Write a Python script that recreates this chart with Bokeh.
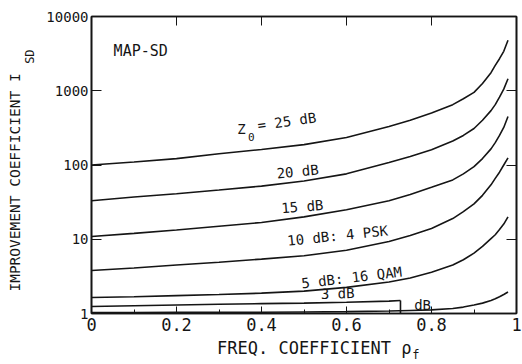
import math
from bokeh.plotting import figure
from bokeh.models import FixedTicker, LinearAxis, LogAxis, Label
from bokeh.embed import file_html
from bokeh.resources import INLINE

# ---- data ----
rho_f = [0, 0.1, 0.2, 0.3, 0.4, 0.5, 0.6, 0.7, 0.75, 0.8, 0.85, 0.875, 0.9, 0.92,
         0.94, 0.95, 0.96, 0.97, 0.98]
isd_25db = [100, 110, 122, 142, 162, 188, 235, 330, 400, 500, 650, 780, 950, 1250,
            1750, 2200, 2700, 3400, 4800]
isd_20db = [33, 37, 41, 46, 52, 61, 76, 108, 130, 160, 210, 250, 310, 400,
            540, 650, 820, 1050, 1450]
isd_15db = [10.9, 12, 13.3, 15, 16.8, 20, 25, 33, 40, 50, 63, 76, 95, 122,
            165, 200, 250, 320, 450]
isd_10db = [3.8, 4.1, 4.5, 4.9, 5.4, 6.0, 7.1, 9.3, 11.2, 14, 19, 23.5, 30, 39,
            54, 66, 80, 100, 125]
isd_5db = [1.64, 1.68, 1.74, 1.80, 1.88, 2.0, 2.25, 2.65, 3.0, 3.6, 4.5, 5.3, 6.5,
           8.0, 10.2, 11.5, 13.5, 16, 20]
isd_1db = [1.03, 1.03, 1.035, 1.04, 1.04, 1.05, 1.06, 1.08, 1.1, 1.12, 1.17, 1.22,
           1.3, 1.38, 1.5, 1.58, 1.68, 1.8, 1.95]
rho_f_3db = [0, 0.1, 0.2, 0.3, 0.4, 0.5, 0.6, 0.7, 0.727]
isd_3db = [1.24, 1.27, 1.30, 1.33, 1.36, 1.38, 1.42, 1.47, 1.5]

x_ticks = [0, 0.2, 0.4, 0.6, 0.8, 1]
x_tick_labels = ["0", "0.2", "0.4", "0.6", "0.8", "1"]
x_minor_ticks = [0.1, 0.3, 0.5, 0.7, 0.9]
x_top_ticks = [0.2, 0.4, 0.6, 0.8]
y_ticks = [1, 10, 100, 1000, 10000]
y_tick_labels = ["1", "10", "100", "1000", "10000"]

x_title = "FREQ. COEFFICIENT ρ"
x_title_sub = "f"
y_title = "IMPROVEMENT COEFFICIENT I"
y_title_sub = "SD"

curve_label_text = ["= 25 dB", "20 dB", "15 dB", "10 dB: 4 PSK", "5 dB: 16 QAM", "3 dB", "dB"]
curve_label_x = [0.391, 0.485, 0.496, 0.579, 0.612, 0.579, 0.779]
curve_label_y = [340, 81.7, 27.6, 11.2, 3.05, 1.86, 1.32]
curve_label_angle = [0.14, 0.10, 0.08, 0.105, 0.12, 0.03, 0.0]
curve_label_align = ["left", "center", "center", "center", "center", "center", "center"]

FONT = "DejaVu Sans Mono"
INK = "#151515"
NB = "\u00a0"

p = figure(width=522, height=364, x_range=(0, 1), y_range=(1, 10000),
           y_axis_type="log", output_backend="svg", toolbar_location=None,
           min_border_left=91, min_border_right=6, min_border_top=16,
           min_border_bottom=51)
p.xgrid.visible = False
p.ygrid.visible = False
p.outline_line_color = INK
p.outline_line_width = 1.6

xb = p.below[0]
xb.ticker = FixedTicker(ticks=x_ticks, minor_ticks=x_minor_ticks)
xb.major_label_overrides = {t: l for t, l in zip(x_ticks, x_tick_labels)}
xb.major_tick_in = 7
xb.major_tick_out = 0
xb.minor_tick_in = 4
xb.minor_tick_out = 0
xb.major_label_standoff = 4
xb.major_label_text_font = FONT
xb.major_label_text_font_size = "17px"
xb.major_label_text_color = INK
xb.axis_line_color = INK
xb.axis_line_width = 1.6
xb.major_tick_line_color = INK
xb.minor_tick_line_color = INK
xb.axis_label = NB * 2 + x_title
xb.axis_label_standoff = 4
xb.axis_label_text_font = FONT
xb.axis_label_text_font_size = "17px"
xb.axis_label_text_font_style = "normal"
xb.axis_label_text_color = INK

yl = p.left[0]
yl.ticker = FixedTicker(ticks=y_ticks, minor_ticks=[])
yl.major_label_overrides = {t: l for t, l in zip(y_ticks, y_tick_labels)}
yl.major_tick_in = 10
yl.major_tick_out = 0
yl.minor_tick_line_color = None
yl.major_label_standoff = 3
yl.major_label_text_font = FONT
yl.major_label_text_font_size = "14px"
yl.major_label_text_color = INK
yl.axis_line_color = INK
yl.axis_line_width = 1.6
yl.major_tick_line_color = INK
yl.axis_label = NB * 30 + y_title_sub
yl.axis_label_standoff = 6
yl.axis_label_text_font = FONT
yl.axis_label_text_font_size = "12px"
yl.axis_label_text_font_style = "normal"
yl.axis_label_text_color = INK

# subscript of the x title, on a bare axis stacked below
xsub = LinearAxis(ticker=FixedTicker(ticks=[], minor_ticks=[]), axis_line_color=None,
                  major_tick_line_color=None, minor_tick_line_color=None,
                  major_label_standoff=0, axis_label=NB * 31 + x_title_sub,
                  axis_label_standoff=-13, axis_label_text_font=FONT,
                  axis_label_text_font_size="12px", axis_label_text_font_style="normal",
                  axis_label_text_color=INK)
p.add_layout(xsub, "below")
# main y title, on a bare axis stacked left of the subscript
ymain = LogAxis(ticker=FixedTicker(ticks=[], minor_ticks=[]), axis_line_color=None,
                major_tick_line_color=None, minor_tick_line_color=None,
                major_label_standoff=0, axis_label=y_title + NB * 4,
                axis_label_standoff=-2, axis_label_text_font=FONT,
                axis_label_text_font_size="14.5px", axis_label_text_font_style="normal",
                axis_label_text_color=INK)
p.add_layout(ymain, "left")

top = LinearAxis(ticker=FixedTicker(ticks=x_top_ticks, minor_ticks=[]),
                 major_tick_in=9, major_tick_out=0, minor_tick_line_color=None,
                 major_label_text_font_size="1px", major_label_text_alpha=0,
                 major_label_standoff=0,
                 axis_line_color=INK, axis_line_width=1.6, major_tick_line_color=INK)
p.add_layout(top, "above")
right = LogAxis(ticker=FixedTicker(ticks=y_ticks[1:-1], minor_ticks=[]),
                major_tick_in=10, major_tick_out=0, minor_tick_line_color=None,
                major_label_text_font_size="1px", major_label_text_alpha=0,
                major_label_standoff=0,
                axis_line_color=INK, axis_line_width=1.6, major_tick_line_color=INK)
p.add_layout(right, "right")

for ys in [isd_25db, isd_20db, isd_15db, isd_10db, isd_5db, isd_1db]:
    p.line(rho_f, ys, line_color=INK, line_width=1.6)
p.line(rho_f_3db, isd_3db, line_color=INK, line_width=1.6)
p.segment(x0=[rho_f_3db[-1]], y0=[isd_3db[-1]], x1=[rho_f_3db[-1]], y1=[y_ticks[0]],
          line_color=INK, line_width=1.6)

for t, x, y, a, al in zip(curve_label_text, curve_label_x, curve_label_y,
                          curve_label_angle, curve_label_align):
    p.add_layout(Label(x=x, y=y, text=t, angle=a, text_align=al, text_baseline="middle",
                       text_font=FONT, text_font_size="14px", text_color=INK))
p.add_layout(Label(x=0.353, y=301, text="Z", text_align="center", text_baseline="middle",
                   text_font=FONT, text_font_size="14px", text_color=INK))
p.add_layout(Label(x=0.376, y=242, text="0", text_align="center", text_baseline="middle",
                   text_font=FONT, text_font_size="11px", text_color=INK))
p.add_layout(Label(x=0.052, y=3380, text="MAP-SD", text_align="left", text_baseline="middle",
                   text_font=FONT, text_font_size="15px", text_color=INK))

open("out.html", "w").write(file_html(p, INLINE))
